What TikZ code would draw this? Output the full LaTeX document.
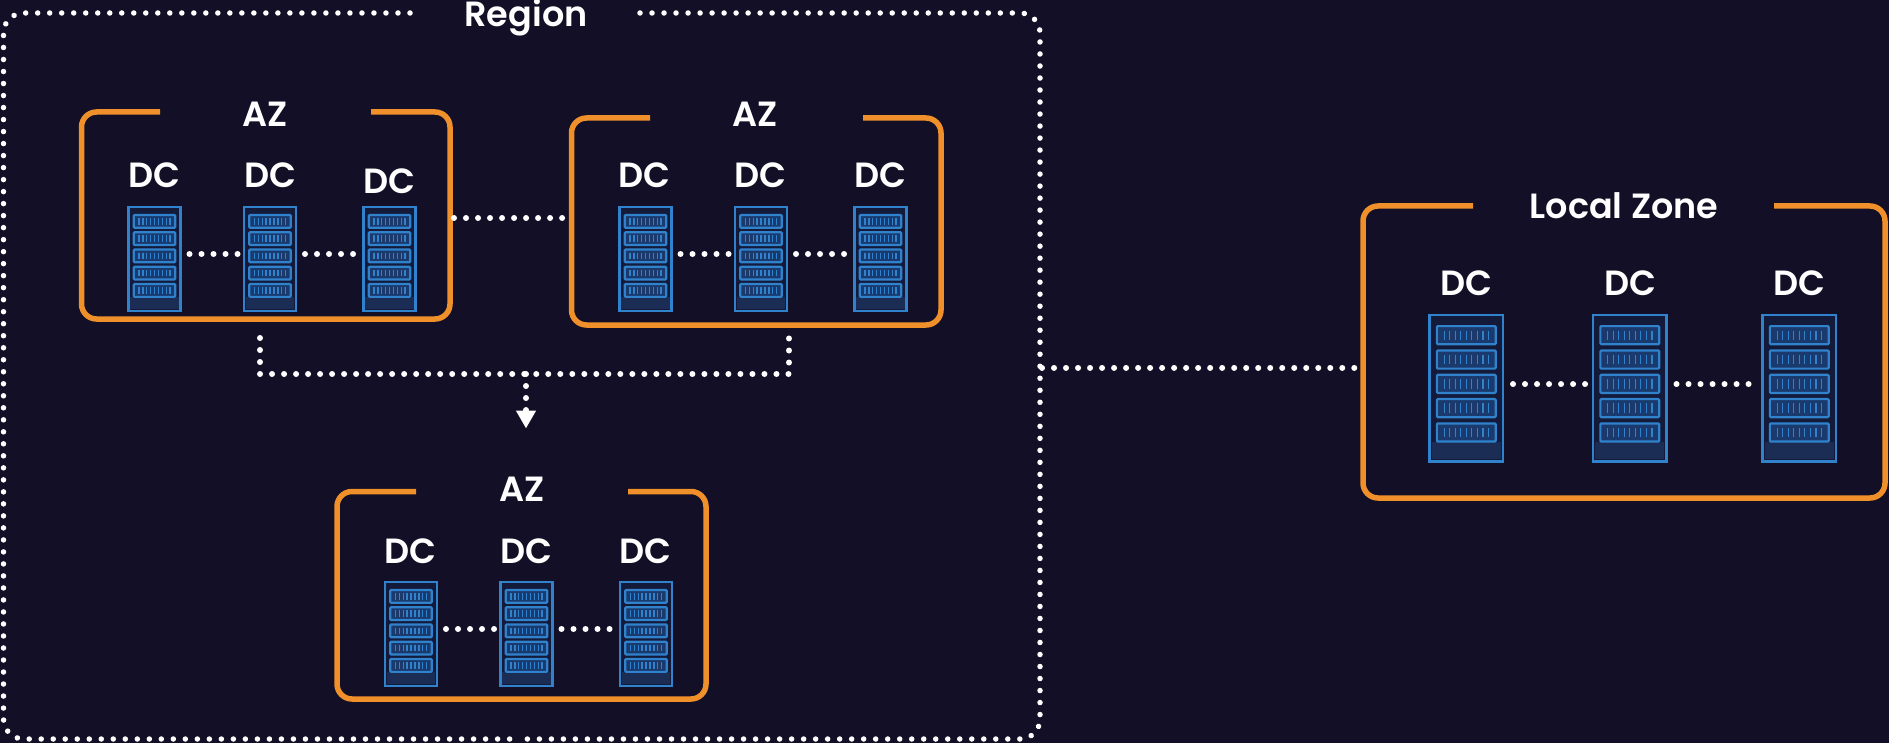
\documentclass[tikz,border=0pt]{standalone}
\usepackage{fontspec}
\setmainfont{Poppins}[BoldFont={Poppins SemiBold}]
\usetikzlibrary{arrows.meta}
\definecolor{bgc}{HTML}{130F26}
\definecolor{azc}{HTML}{F0902B}
\definecolor{rackc}{HTML}{2F82CB}
\definecolor{rackin}{HTML}{141A3A}
\definecolor{rackft}{HTML}{1B2D55}
\definecolor{unitc}{HTML}{1A3A6E}
\tikzset{
  lbl/.style={text=white,font=\fontsize{35}{36}\selectfont\bfseries,anchor=base,inner sep=0pt},
  dots/.style={draw=white,line width=6pt,line cap=round,dash pattern=on 0.01pt off 12pt},
  regiondots/.style={draw=white,line width=5.5pt,line cap=round,dash pattern=on 0.01pt off 12pt,rounded corners=20pt},
  azline/.style={draw=azc,line width=5.5pt,rounded corners=15pt,line cap=butt},
  ghost/.style={rectangle,inner sep=0pt,outer sep=0pt,anchor=north west},
  rackbox/.style={rectangle,draw=rackc,fill=rackin,inner sep=0pt,outer sep=0pt,anchor=north west,line width=2.4pt},
  rackunit/.style={draw=rackc,fill=unitc,line width=2.2pt,rounded corners=1pt},
  racktick/.style={draw=rackc,line width=1.4pt}
}
% name, left, top, width, height
\newcommand{\Rack}[5]{%
  \node[rackbox,minimum width=#4pt,minimum height=#5pt] (#1) at (#2,#3) {};
  \begin{scope}[shift={(#2,#3)},x=#4pt,y=-#5pt]
    \fill[rackft] (0.03,0.87) rectangle (0.97,0.985);
    \foreach \r in {0,...,4}{
      \draw[rackunit] (0.1,{0.076+0.166*\r}) rectangle (0.9,{0.2+0.166*\r});
      \foreach \t in {0,...,8}{
        \draw[racktick] ({0.2+0.075*\t},{0.106+0.166*\r}) -- ({0.2+0.075*\t},{0.17+0.166*\r});
      }
    }
  \end{scope}
}
% name, L, T, R, B, gapL, gapR
\newcommand{\AZbox}[7]{%
  \node[ghost,minimum width={(#4-#2)*1pt},minimum height={(#5-#3)*1pt}] (#1) at (#2,#3) {};
  \draw[azline] (#6,#3) -- (#2,#3) -- (#2,#5) -- (#4,#5) -- (#4,#3) -- (#7,#3);
}
\begin{document}
\begin{tikzpicture}[x=1pt,y=-1pt]
\useasboundingbox (0,0) rectangle (1889,743);
\fill[bgc] (0,0) rectangle (1889,743);

% Region
\node[ghost,minimum width=1036.5pt,minimum height=726pt] (region) at (3.5,13) {};
\draw[regiondots] (410,13) -- (3.5,13) -- (3.5,739) -- (520,739);
\draw[regiondots] (640,13) -- (1040,13) -- (1040,739) -- (520,739);
\node[lbl] (regionlabel) at (526,27) {Region};

% AZ boxes
\AZbox{aza}{81.5}{112}{450}{319}{160}{371}
\AZbox{azb}{571.5}{118}{941}{325}{650}{863}
\AZbox{azc}{337}{491.5}{706}{699}{416}{628}
\AZbox{lz}{1363}{206}{1885}{498}{1473}{1774}

\node[lbl] (azalabel) at (265,127) {AZ};
\node[lbl] (azblabel) at (755,127) {AZ};
\node[lbl] (azclabel) at (522,501) {AZ};
\node[lbl] (lzlabel) at (1624,219) {Local Zone};

% Racks
\Rack{ra1}{128.5}{207}{52}{104}
\Rack{ra2}{244}{207}{52}{104}
\Rack{ra3}{363.5}{207}{52}{104}
\Rack{rb1}{619.5}{207}{52}{104}
\Rack{rb2}{735}{207}{52}{104}
\Rack{rb3}{854.5}{207}{52}{104}
\Rack{rc1}{385}{582}{52}{104}
\Rack{rc2}{500.5}{582}{52}{104}
\Rack{rc3}{620}{582}{52}{104}
\Rack{rl1}{1429.5}{315}{73.5}{146.5}
\Rack{rl2}{1593}{315}{73.5}{146.5}
\Rack{rl3}{1762.5}{315}{73.5}{146.5}

% DC labels
\node[lbl] (da1) at (154,188) {DC};
\node[lbl] (da2) at (270,188) {DC};
\node[lbl] (da3) at (389,193.5) {DC};
\node[lbl] (db1) at (644.5,188) {DC};
\node[lbl] (db2) at (760.5,188) {DC};
\node[lbl] (db3) at (880,188) {DC};
\node[lbl] (dc1) at (410,563) {DC};
\node[lbl] (dc2) at (526,563) {DC};
\node[lbl] (dc3) at (645,563) {DC};
\node[lbl] (dl1) at (1466,295) {DC};
\node[lbl] (dl2) at (1630,295) {DC};
\node[lbl] (dl3) at (1799,295) {DC};

% Rack links
\foreach \p/\q in {ra1/ra2,ra2/ra3,rb1/rb2,rb2/rb3,rc1/rc2,rc2/rc3}{
  \draw[dots,shorten <=9pt,shorten >=3pt] ([yshift=5pt]\p.east) -- ([yshift=5pt]\q.west);
}
\foreach \p/\q in {rl1/rl2,rl2/rl3}{
  \draw[dots,shorten <=10pt,shorten >=4pt] ([yshift=4pt]\p.east) -- ([yshift=4pt]\q.west);
}

% AZ to AZ
\coordinate (abmid) at (500,218);
\draw[dots,shorten <=4pt,shorten >=4pt] (aza.east |- abmid) -- (azb.west |- abmid);

% Bus
\coordinate (busLt) at (260,338);
\coordinate (busL) at (260,374);
\coordinate (busRt) at (789,338);
\coordinate (busR) at (789,374);
\coordinate (busC) at (526,374);
\coordinate (busTip) at (526,428.5);
\draw[dots] (busLt) -- (busL) -- (busR) -- (busRt);
\draw[dots,-{Triangle[width=19pt,length=18pt]}] (busC) -- (busTip);

% Region to Local Zone
\coordinate (linkA) at (1042,367.7);
\coordinate (linkB) at (1360,367.7);
\draw[dots] (linkA) -- (linkB);
\end{tikzpicture}
\end{document}
